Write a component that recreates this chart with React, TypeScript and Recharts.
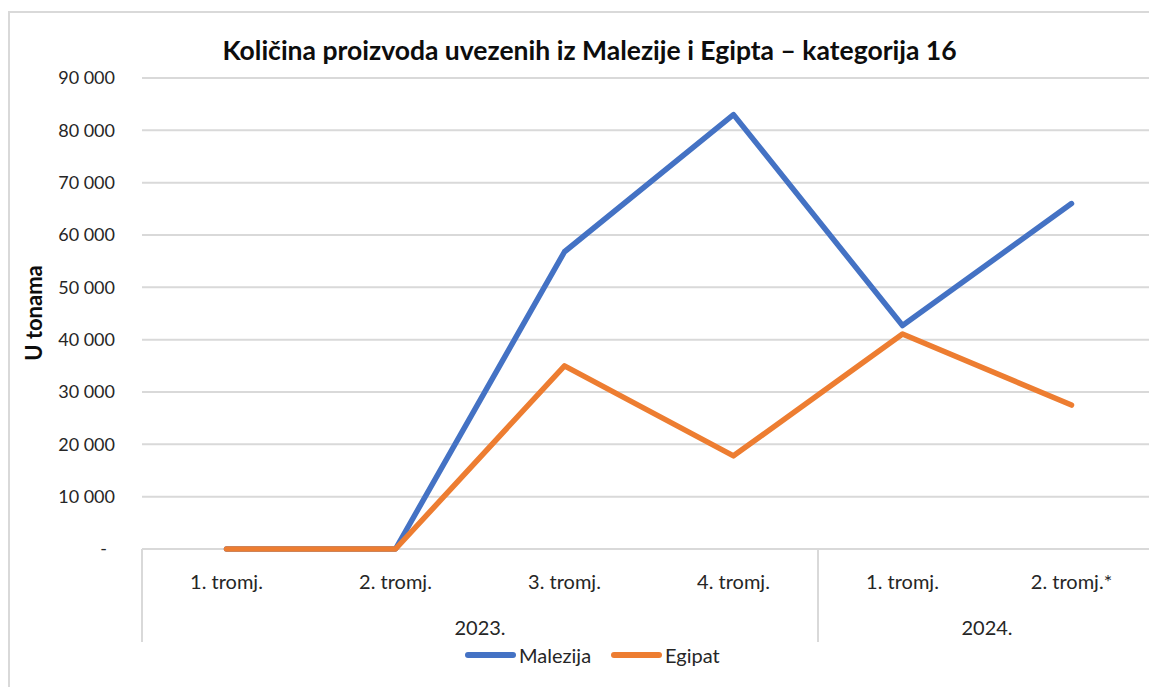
import { LineChart, Line, XAxis, YAxis, CartesianGrid } from "recharts";

const quarters = ["1. tromj.", "2. tromj.", "3. tromj.", "4. tromj.", "1. tromj.", "2. tromj.*"];
const years = ["2023.", "2023.", "2023.", "2023.", "2024.", "2024."];
const malezija = [0, 0, 56800, 83000, 42700, 66000];
const egipat = [0, 0, 35000, 17800, 41100, 27500];
const yTicks = [0, 10000, 20000, 30000, 40000, 50000, 60000, 70000, 80000, 90000];

const series = [
  { key: "malezija", name: "Malezija", color: "#4472C4" },
  { key: "egipat", name: "Egipat", color: "#ED7D31" },
];

const data = quarters.map((q, i) => ({
  id: `${years[i]}-${i}`,
  quarter: q,
  malezija: malezija[i],
  egipat: egipat[i],
}));

const W = 1149;
const H = 679;
const Y_AXIS_W = 134;
const RIGHT = 1;
const PLOT_W = W - Y_AXIS_W - RIGHT;
const BAND = PLOT_W / quarters.length;
const FONT = "Lato, 'Open Sans', sans-serif";
const GRID = "#d9d9d9";

const fmt = (v: number) => (v === 0 ? "-" : String(v).replace(/\B(?=(\d{3})+(?!\d))/g, " "));

const YTick = (props: any) => {
  const { x, y, payload } = props;
  return (
    <text x={payload.value === 0 ? x - 8 : x} y={y} dy="0.35em" textAnchor="end" fill="#262626" fontSize={18} fontFamily={FONT}>
      {fmt(payload.value)}
    </text>
  );
};

// quarter label + year group label and separators
const XTick = (props: any) => {
  const { x, y, index } = props;
  const yr = years[index];
  const first = years.indexOf(yr);
  const last = years.lastIndexOf(yr);
  return (
    <g>
      <text x={x} y={y + 40} textAnchor="middle" fill="#262626" fontSize={20} fontFamily={FONT}>
        {quarters[index]}
      </text>
      {index === first && <line x1={x - BAND / 2} x2={x - BAND / 2} y1={y} y2={y + 93} stroke={GRID} strokeWidth={2} />}
      {index === last && <line x1={x + BAND / 2} x2={x + BAND / 2} y1={y} y2={y + 93} stroke={GRID} strokeWidth={2} />}
      {index === first && (
        <text x={x + ((last - first) * BAND) / 2} y={y + 86} textAnchor="middle" fill="#262626" fontSize={20} fontFamily={FONT}>
          {yr}
        </text>
      )}
    </g>
  );
};

export default function App() {
  return (
    <div style={{ position: "relative", width: W, height: H, overflow: "hidden", fontFamily: FONT, background: "#fff" }}>
      <div style={{ position: "absolute", left: 0, top: 3, width: W + 20, height: H + 20, border: `2px solid ${GRID}`, boxSizing: "border-box" }} />
      <div style={{ position: "absolute", left: 0, top: 26, width: 1163, textAlign: "center", fontSize: 26.5, fontWeight: 700, color: "#0d0d0d", lineHeight: "32px" }}>
        Količina proizvoda uvezenih iz Malezije i Egipta – kategorija 16
      </div>
      <div style={{ position: "absolute", left: 25, top: 305, transform: "translate(-50%, -50%) rotate(-90deg)", fontSize: 22, fontWeight: 700, color: "#0d0d0d", whiteSpace: "nowrap" }}>
        U tonama
      </div>
      <LineChart width={W} height={H} data={data} margin={{ top: 70, right: RIGHT, left: 0, bottom: 38 }} style={{ position: "absolute", left: 0, top: 0 }}>
        <CartesianGrid vertical={false} stroke={GRID} strokeWidth={2} />
        <XAxis dataKey="id" height={100} interval={0} padding={{ left: BAND / 2, right: BAND / 2 }} tickSize={0} tickMargin={0} tickLine={false} axisLine={false} tick={<XTick />} />
        <YAxis width={Y_AXIS_W} domain={[0, 90000]} ticks={yTicks} tickSize={0} tickMargin={27} axisLine={false} tickLine={false} tick={<YTick />} />
        {series.map((s) => (
          <Line key={s.key} dataKey={s.key} name={s.name} type="linear" stroke={s.color} strokeWidth={5.5} strokeLinecap="round" strokeLinejoin="round" dot={false} activeDot={false} isAnimationActive={false} />
        ))}
      </LineChart>
      <div style={{ position: "absolute", left: 457, top: 635, display: "flex", alignItems: "center", fontSize: 20, color: "#262626" }}>
        {series.map((s, i) => (
          <div key={s.key} style={{ display: "flex", alignItems: "center", marginLeft: i === 0 ? 0 : 20 }}>
            <span style={{ display: "inline-block", width: 51, height: 6, borderRadius: 3, background: s.color, marginRight: 3 }} />
            <span>{s.name}</span>
          </div>
        ))}
      </div>
    </div>
  );
}
